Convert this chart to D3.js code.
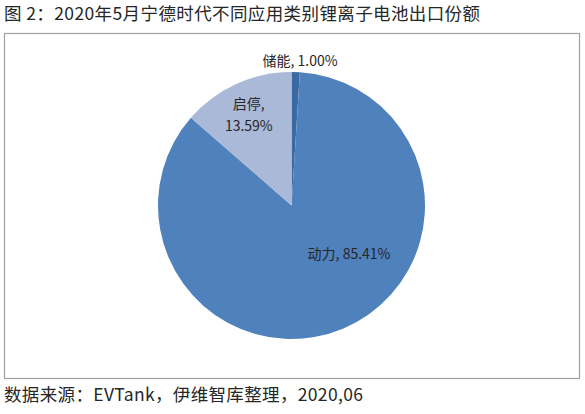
<!DOCTYPE html>
<html>
<head>
<meta charset="utf-8">
<script src="https://cdn.jsdelivr.net/npm/d3@7"></script>
<style>
  body { margin: 0; background: #fff; }
  svg text { font-family: "Noto Sans CJK SC", "Noto Sans", sans-serif; }
</style>
</head>
<body>
<script>
const CATEGORIES = ['储能', '动力', '启停'];
const SHARES = [1.00, 85.41, 13.59];
const TITLE = '图 2：2020年5月宁德时代不同应用类别锂离子电池出口份额';
const SOURCE = '数据来源：EVTank，伊维智库整理，2020,06';

const [W, H] = [585, 414];
const PIE = { cx: 291.5, cy: 205.5, r: 133.5 };
const COLORS = ['#3b6aa3', '#4f81bd', '#aab9d8'];

// where excel put the labels (radius factor + small nudge)
const LABEL_LAYOUT = {
    '储能': { k: 1.085, dx: 4, dy: 0, split: false },
    '动力': { k: 0.40, dx: 37, dy: -1, split: false },
    '启停': { k: 0.70, dx: -4, dy: -5, split: true }
};

const svg = d3.select('body').append('svg').attr('width', W).attr('height', H);

// title
svg.append('text')
    .attr('x', 4)
    .attr('y', 20)
    .style('font-size', '17.5px')
    .attr('fill', '#262626')
    .attr('textLength', 476)
    .text(TITLE);

// frame
svg.append('rect')
    .attr('x', 4.5).attr('y', 33.5)
    .attr('width', 575).attr('height', 345)
    .attr('fill', 'none')
    .attr('stroke', '#a0a0a0')
    .attr('stroke-width', 1.2);

const data = CATEGORIES.map((c, i) => ({ name: c, value: SHARES[i], color: COLORS[i] }));

const pie = d3.pie().sort(null).value(d => d.value);
const arcs = pie(data);
const arc = d3.arc().innerRadius(0).outerRadius(PIE.r);

const g = svg.append('g').attr('transform', `translate(${PIE.cx},${PIE.cy})`);

g.selectAll('path')
    .data(arcs)
    .enter()
    .append('path')
    .attr('d', arc)
    .attr('fill', d => d.data.color);

// labels
arcs.forEach(d => {
    const lay = LABEL_LAYOUT[d.data.name];
    const lr = PIE.r * lay.k;
    const [x, y] = d3.arc().innerRadius(lr).outerRadius(lr).centroid(d);
    const label = g.append('text')
        .attr('text-anchor', 'middle')
        .style('font-size', '14px')
        .attr('fill', '#262626');
    const pct = d.data.value.toFixed(2) + '%';
    if (lay.split) {
        label.append('tspan').attr('x', x + lay.dx).attr('y', y + lay.dy - 6).text(d.data.name + ',');
        label.append('tspan').attr('x', x + lay.dx).attr('y', y + lay.dy + 16).text(pct);
    } else {
        label.attr('x', x + lay.dx).attr('y', y + lay.dy + 5).text(d.data.name + ', ' + pct);
    }
});

// source
svg.append('text')
    .attr('x', 4)
    .attr('y', 401)
    .style('font-size', '17.5px')
    .attr('fill', '#262626')
    .attr('textLength', 359)
    .text(SOURCE);
</script>
</body>
</html>
